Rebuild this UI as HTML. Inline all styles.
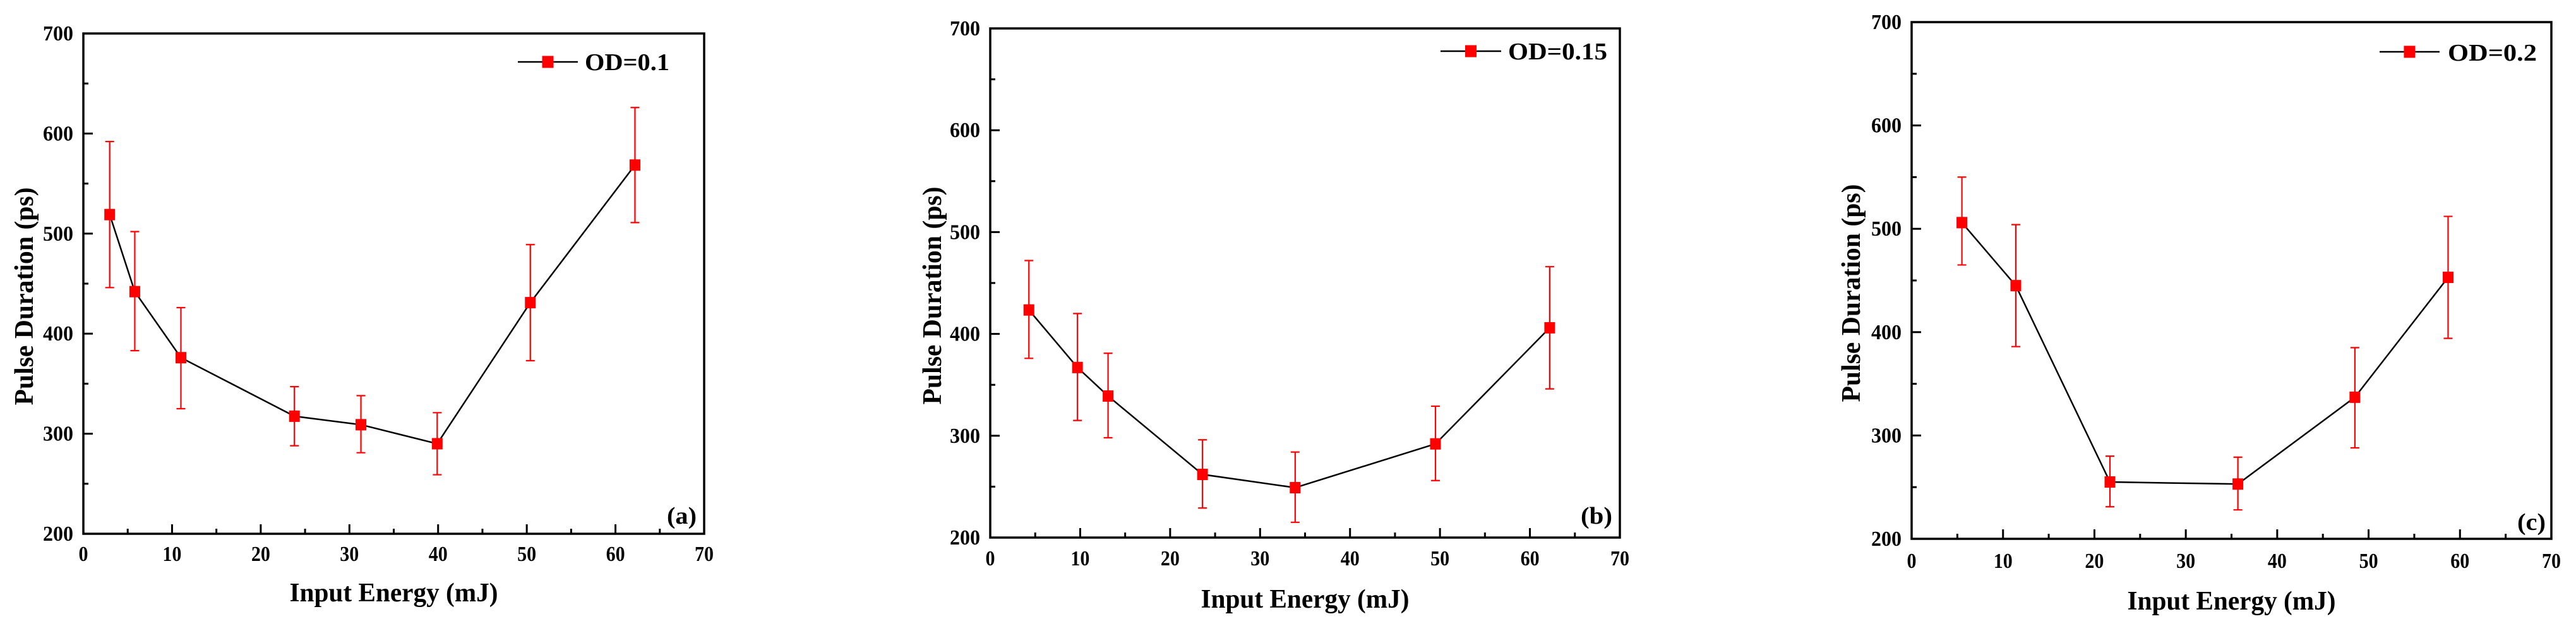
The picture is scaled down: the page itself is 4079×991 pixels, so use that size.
<!DOCTYPE html>
<html><head><meta charset="utf-8"><style>
html,body{margin:0;padding:0;background:#fff;width:4079px;height:991px;overflow:hidden}
svg text{font-family:"Liberation Serif",serif;font-weight:bold;fill:#000}
</style></head><body>
<svg id="fig" width="4079" height="991" viewBox="0 0 4079 991" xmlns="http://www.w3.org/2000/svg"></svg>
<script>
// Panel (a) OD=0.1
const xA = [2.97, 5.8, 11.0, 23.8, 31.3, 39.9, 50.4, 62.2];
const yA = [519, 442, 376, 317.5, 309, 290, 431, 568.5];
const hiA = [592, 502, 426, 347, 338, 321, 489, 626];
const loA = [446, 383, 325, 288, 281, 259, 373, 511];
// Panel (b) OD=0.15
const xB = [4.3, 9.7, 13.1, 23.6, 33.9, 49.5, 62.2];
const yB = [423.5, 367, 339, 262, 249, 292, 406];
const hiB = [472, 420, 381, 296, 284, 329, 466];
const loB = [376, 315, 298, 229, 215, 256, 346];
// Panel (c) OD=0.2
const xC = [5.5, 11.4, 21.7, 35.7, 48.5, 58.7];
const yC = [506, 445, 255, 253, 337, 453];
const hiC = [550, 504, 280, 279, 385, 512];
const loC = [465, 386, 231, 228, 288, 394];
const xTicks = [0, 10, 20, 30, 40, 50, 60, 70];
const yTicks = [200, 300, 400, 500, 600, 700];

const NS = "http://www.w3.org/2000/svg";
const fig = document.getElementById('fig');
function mk(tag, attrs, parent) {
  const e = document.createElementNS(NS, tag);
  for (const k in attrs) e.setAttribute(k, attrs[k]);
  parent.appendChild(e);
  return e;
}
function panel(p) {
  const g = mk('g', {}, fig);
  
  
  const sx = v => p.L + (v - 0) / 70 * (p.R - p.L);
  const sy = v => p.B - (v - 200) / 500 * (p.B - p.T);
  // ticks
  for (let v = 0; v <= 70; v += 5) {
    const major = v % 10 === 0;
    const t = mk('line', {x1: sx(v), x2: sx(v), y1: p.B, y2: p.B - (major ? 15 : 8), stroke: '#000', 'stroke-width': 3}, g);
    
    
  }
  for (let v = 200; v <= 700; v += 50) {
    const major = v % 100 === 0;
    const t = mk('line', {x1: p.L, x2: p.L + (major ? 15 : 8), y1: sy(v), y2: sy(v), stroke: '#000', 'stroke-width': 3}, g);
    
    
  }
  xTicks.forEach(v => {
    const t = mk('text', {x: sx(v), y: p.xlab, 'font-size': 34, 'text-anchor': 'middle', textLength: String(v).length * 15, lengthAdjust: 'spacingAndGlyphs'}, g);
    t.textContent = v;
    
    
  });
  yTicks.forEach(v => {
    const t = mk('text', {x: p.L - 16, y: sy(v) + 11, 'font-size': 34, 'text-anchor': 'end', textLength: 48, lengthAdjust: 'spacingAndGlyphs'}, g);
    t.textContent = v;
    
    
  });
  // frame
  const fr = mk('rect', {x: p.L, y: p.T, width: p.R - p.L, height: p.B - p.T, fill: 'none', stroke: '#000', 'stroke-width': 3.5}, g);
  
  
  // titles
  const xt = mk('text', {x: (p.L + p.R) / 2 + p.xtOff, y: p.xt, 'font-size': 42, 'text-anchor': 'middle', textLength: 330, lengthAdjust: 'spacingAndGlyphs'}, g);
  xt.textContent = 'Input Energy (mJ)';
  
  
  const yc = (p.T + p.B) / 2 + 20;
  const yt = mk('text', {x: 0, y: 0, 'font-size': 42, 'text-anchor': 'middle', textLength: 345, lengthAdjust: 'spacingAndGlyphs', transform: `translate(${p.yt},${yc}) rotate(-90)`}, g);
  yt.textContent = 'Pulse Duration (ps)';
  
  
  // line
  const pts = p.xs.map((x, i) => sx(x) + ',' + sy(p.ys[i])).join(' ');
  const pl = mk('polyline', {points: pts, fill: 'none', stroke: '#000', 'stroke-width': 2.5}, g);
  
  
  // error bars + markers
  p.xs.forEach((x, i) => {
    const cx = sx(x);
    const e = mk('path', {d: `M${cx},${sy(p.hi[i])}V${sy(p.lo[i])}M${cx - 7},${sy(p.hi[i])}H${cx + 7}M${cx - 7},${sy(p.lo[i])}H${cx + 7}`, stroke: '#f00', 'stroke-width': 2.2, fill: 'none'}, g);
    
    
    const m = mk('rect', {x: cx - 8.5, y: sy(p.ys[i]) - 9, width: 17, height: 18, fill: '#f00'}, g);
    
    
  });
  // legend
  const lg = mk('g', {}, g);
  
  
  mk('line', {x1: p.lx1, x2: p.lx2, y1: p.ly, y2: p.ly, stroke: '#000', 'stroke-width': 2.5}, lg);
  mk('rect', {x: (p.lx1 + p.lx2) / 2 - 9, y: p.ly - 9.5, width: 18, height: 19, fill: '#f00'}, lg);
  const lt = mk('text', {x: p.tx1, y: p.tb, 'font-size': 38, textLength: p.tx2 - p.tx1, lengthAdjust: 'spacingAndGlyphs'}, lg);
  lt.textContent = p.label;
  const pt = mk('text', {x: p.px1, y: p.pb, 'font-size': 38, textLength: p.px2 - p.px1, lengthAdjust: 'spacingAndGlyphs'}, g);
  pt.textContent = '(' + p.id + ')';
  
  
}
panel({id: 'a', L: 132, R: 1115, T: 53, B: 845, xs: xA, ys: yA, hi: hiA, lo: loA, xlab: 888, xt: 952, xtOff: 0, yt: 52,
  lx1: 820, lx2: 915, ly: 98, tx1: 926, tx2: 1060, tb: 111, label: 'OD=0.1', px1: 1056, px2: 1103, pb: 829});
panel({id: 'b', L: 1568, R: 2565, T: 45, B: 851, xs: xB, ys: yB, hi: hiB, lo: loB, xlab: 895, xt: 962, xtOff: 0, yt: 1490,
  lx1: 2281, lx2: 2377, ly: 81, tx1: 2388, tx2: 2545, tb: 94, label: 'OD=0.15', px1: 2503, px2: 2553, pb: 829});
panel({id: 'c', L: 3027, R: 4040, T: 35, B: 853, xs: xC, ys: yC, hi: hiC, lo: loC, xlab: 899, xt: 965, xtOff: 0, yt: 2945,
  lx1: 3768, lx2: 3863, ly: 82, tx1: 3876, tx2: 4017, tb: 96, label: 'OD=0.2', px1: 3986, px2: 4031, pb: 839});
</script>
</body></html>
